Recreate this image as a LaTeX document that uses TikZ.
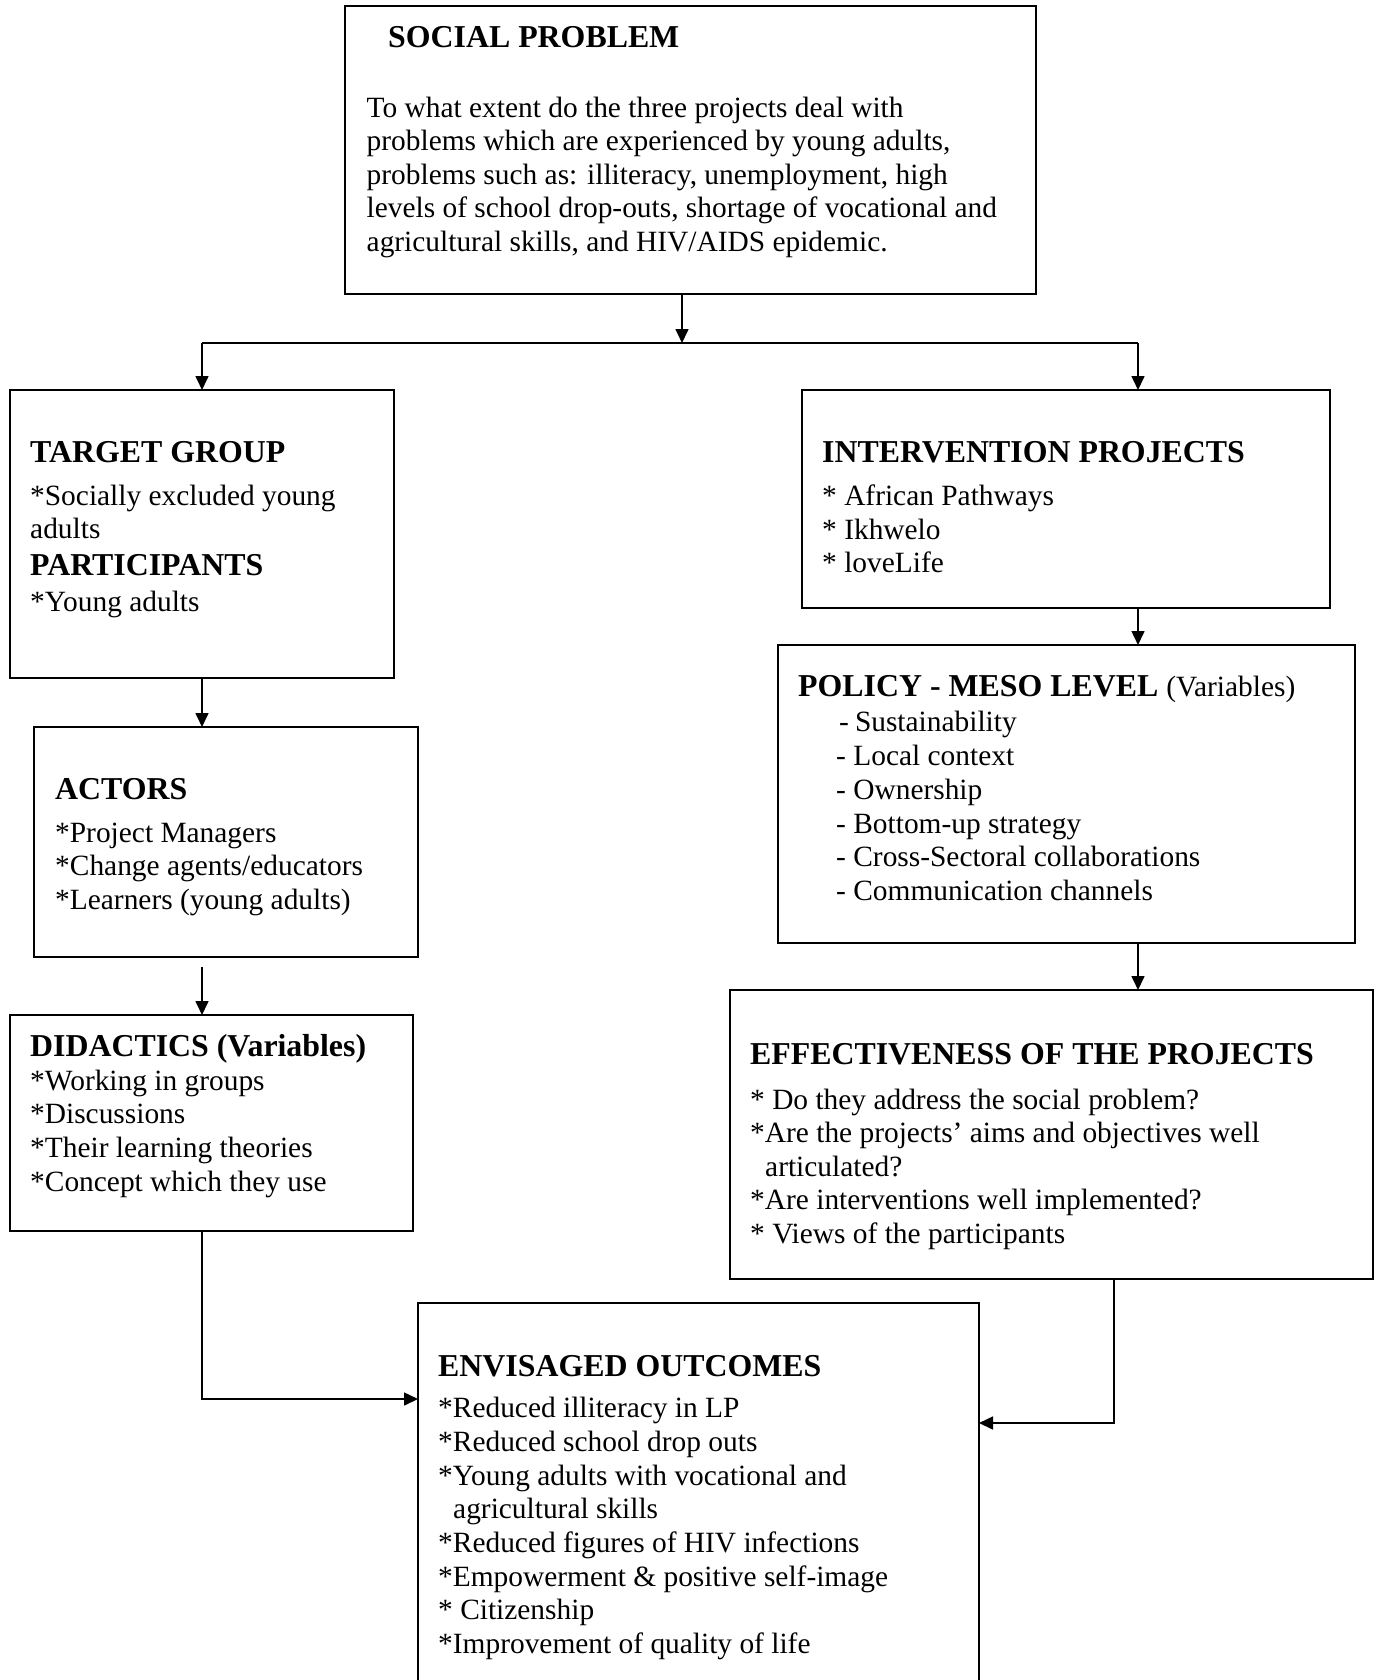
\documentclass[tikz,border=0pt]{standalone}
\usepackage{fontspec}
\setmainfont{Liberation Serif}
\usetikzlibrary{arrows.meta}
\newcommand{\bodyfont}{\fontsize{29.4}{33.6}\selectfont}
\newcommand{\headfont}{\fontsize{31.85}{38}\selectfont\bfseries}
\newcommand{\headreg}{\fontsize{31.85}{38}\selectfont}
\begin{document}
\begin{tikzpicture}[x=1pt,y=-1pt,
  box/.style={draw, line width=1.6pt, inner sep=0pt, outer sep=0pt},
  txt/.style={anchor=base west, inner sep=0pt, font=\bodyfont},
  hd/.style={anchor=base west, inner sep=0pt, font=\headfont},
  arr/.style={line width=1.6pt, -{Triangle[length=14pt,width=13pt]}},
  ln/.style={line width=1.6pt}]
\useasboundingbox (0,0) rectangle (1376,1680);
\fill[white] (0,0) rectangle (1376,1680);

% boxes
\node[box, minimum width=691pt, minimum height=288pt] (sp) at (690.5,150) {};
\node[box, minimum width=384pt, minimum height=288pt] (tg) at (202,534) {};
\node[box, minimum width=528pt, minimum height=218pt] (ip) at (1066,499) {};
\node[box, minimum width=577pt, minimum height=298pt] (pol) at (1066.5,794) {};
\node[box, minimum width=384pt, minimum height=230pt] (act) at (226,842) {};
\node[box, minimum width=403pt, minimum height=216pt] (did) at (211.5,1123) {};
\node[box, minimum width=643pt, minimum height=289pt] (eff) at (1051.5,1134.5) {};
\node[inner sep=0pt, outer sep=0pt, minimum width=561pt, minimum height=377pt] (env) at (698.5,1491.5) {};
\draw[ln] (env.south west) -- (env.north west) -- (env.north east) -- (env.south east);

% junction coordinates
\coordinate (jm) at (682,343);
\coordinate (jl) at (202,343);
\coordinate (jr) at (1138,343);
\coordinate (lk) at (202,1399);
\coordinate (rk) at (1114,1423);

% connectors
\draw[arr] (sp.south -| jm) -- (jm);
\draw[ln] (jl) -- (jr);
\draw[arr] (jl) -- (jl |- tg.north);
\draw[arr] (jr) -- (jr |- ip.north);
\draw[arr] (ip.south -| jr) -- (pol.north -| jr);
\draw[arr] (pol.south -| jr) -- (eff.north -| jr);
\draw[arr] (tg.south) -- (tg.south |- act.north);
\draw[arr] ([yshift=-10pt]act.south -| tg.south) -- (tg.south |- did.north);
\draw[arr] (lk |- did.south) -- (lk) -- (lk -| env.west);
\draw[arr] (rk |- eff.south) -- (rk) -- (rk -| env.east);

% SOCIAL PROBLEM
\node[hd] (sph) at (388,48) {SOCIAL PROBLEM};
\node[txt] (sp1) at (366.5,117.5) {To what extent do the three projects deal with};
\node[txt] (sp2) at (366.5,151) {problems which are experienced by young adults,};
\node[txt] (sp3) at (366.5,184.5) {problems such as: illiteracy, unemployment, high};
\node[txt] (sp4) at (366.5,218) {levels of school drop-outs, shortage of vocational and};
\node[txt] (sp5) at (366.5,251.5) {agricultural skills, and HIV/AIDS epidemic.};

% TARGET GROUP
\node[hd] (tgh) at (30,462.5) {TARGET GROUP};
\node[txt] (tg1) at (30,505) {*Socially excluded young};
\node[txt] (tg2) at (30,538.5) {adults};
\node[hd] (tgh2) at (30,575) {PARTICIPANTS};
\node[txt] (tg3) at (30,611) {*Young adults};

% INTERVENTION PROJECTS
\node[hd] (iph) at (822,462.5) {INTERVENTION PROJECTS};
\node[txt] (ip1) at (822,505.5) {* African Pathways};
\node[txt] (ip2) at (822,539) {* Ikhwelo};
\node[txt] (ip3) at (822,572.5) {* loveLife};

% POLICY
\node[anchor=base west, inner sep=0pt, font=\headreg] (polh) at (798,696) {\textbf{POLICY - MESO LEVEL} {\bodyfont (Variables)}};
\node[txt] (pol1) at (839,731.5) {-\kern6pt Sustainability};
\node[txt] (pol2) at (836,765.5) {- Local context};
\node[txt] (pol3) at (836,799.5) {- Ownership};
\node[txt] (pol4) at (836,833) {- Bottom-up strategy};
\node[txt] (pol5) at (836,866.5) {- Cross-Sectoral collaborations};
\node[txt] (pol6) at (836,900.5) {- Communication channels};

% ACTORS
\node[hd] (acth) at (55,799) {ACTORS};
\node[txt] (act1) at (55,842) {*Project Managers};
\node[txt] (act2) at (55,875.5) {*Change agents/educators};
\node[txt] (act3) at (55,909) {*Learners (young adults)};

% DIDACTICS
\node[hd] (didh) at (30,1056) {DIDACTICS (Variables)};
\node[txt] (did1) at (30,1090) {*Working in groups};
\node[txt] (did2) at (30,1123.5) {*Discussions};
\node[txt] (did3) at (30,1157) {*Their learning theories};
\node[txt] (did4) at (30,1191) {*Concept which they use};

% EFFECTIVENESS
\node[hd] (effh) at (750,1064) {EFFECTIVENESS OF THE PROJECTS};
\node[txt] (eff1) at (750,1109) {* Do they address the social problem?};
\node[txt] (eff2) at (750,1142.5) {*Are the projects’ aims and objectives well};
\node[txt] (eff3) at (765,1176) {articulated?};
\node[txt] (eff4) at (750,1209.5) {*Are interventions well implemented?};
\node[txt] (eff5) at (750,1243.5) {* Views of the participants};

% ENVISAGED OUTCOMES
\node[hd] (envh) at (438,1376) {ENVISAGED OUTCOMES};
\node[txt] (env1) at (438,1417.5) {*Reduced illiteracy in LP};
\node[txt] (env2) at (438,1451.5) {*Reduced school drop outs};
\node[txt] (env3) at (438,1485) {*Young adults with vocational and};
\node[txt] (env4) at (453,1518.5) {agricultural skills};
\node[txt] (env5) at (438,1552.5) {*Reduced figures of HIV infections};
\node[txt] (env6) at (438,1586) {*Empowerment \& positive self-image};
\node[txt] (env7) at (438,1619.5) {* Citizenship};
\node[txt] (env8) at (438,1653.5) {*Improvement of quality of life};
\end{tikzpicture}
\end{document}
